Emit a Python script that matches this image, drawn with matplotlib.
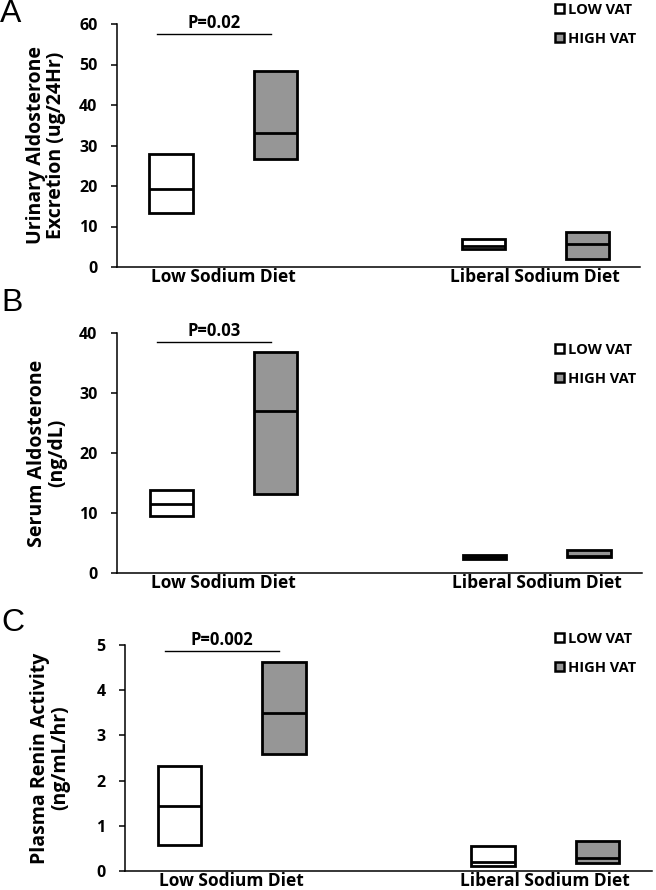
import matplotlib
matplotlib.use("Agg")
import matplotlib.pyplot as plt
from matplotlib.patches import Patch

plt.rcParams['font.family'] = ['Open Sans', 'DejaVu Sans']

categories = ["Low Sodium Diet", "Liberal Sodium Diet"]
groups = ["LOW VAT", "HIGH VAT"]

# Panel A: Urinary aldosterone (q1, median, q3)
A_low_q1 = [13.4, 4.5]
A_low_med = [19.3, 5.2]
A_low_q3 = [27.8, 6.8]
A_high_q1 = [26.7, 2.0]
A_high_med = [33.0, 5.6]
A_high_q3 = [48.5, 8.6]

# Panel B: Serum aldosterone
B_low_q1 = [9.5, 2.4]
B_low_med = [11.5, 2.7]
B_low_q3 = [13.8, 3.0]
B_high_q1 = [13.2, 2.6]
B_high_med = [27.0, 2.9]
B_high_q3 = [36.8, 3.9]

# Panel C: Plasma renin activity
C_low_q1 = [0.57, 0.11]
C_low_med = [1.44, 0.20]
C_low_q3 = [2.32, 0.55]
C_high_q1 = [2.59, 0.18]
C_high_med = [3.50, 0.28]
C_high_q3 = [4.62, 0.67]

A_ticks = [0, 10, 20, 30, 40, 50, 60]
B_ticks = [0, 10, 20, 30, 40]
C_ticks = [0, 1, 2, 3, 4, 5]

p_texts = ["P=0.02", "P=0.03", "P=0.002"]
p_levels = [57.5, 38.5, 4.87]
ylabels = ["Urinary Aldosterone\nExcretion (ug/24Hr)", "Serum Aldosterone\n(ng/dL)",
           "Plasma Renin Activity\n(ng/mL/hr)"]
letters = ["A", "B", "C"]

GRAY = "#969696"
W, H = 656, 890
fig = plt.figure(figsize=(W / 100, H / 100), dpi=100)

# axes rectangles in pixels: left, right, top, bottom
rects = [(117, 640, 24, 267), (117, 642, 333, 573), (125, 652, 645, 871)]
data = [
    (A_low_q1, A_low_med, A_low_q3, A_high_q1, A_high_med, A_high_q3, A_ticks),
    (B_low_q1, B_low_med, B_low_q3, B_high_q1, B_high_med, B_high_q3, B_ticks),
    (C_low_q1, C_low_med, C_low_q3, C_high_q1, C_high_med, C_high_q3, C_ticks),
]
letter_pos = [(0, -1), (1, 288), (1, 608)]
legend_y = [13, 353, 642]
ylabel_x = [46, 47, 50]

off = 0.167
bw = 0.138
xpos = list(range(len(categories)))

for i, (rect, d) in enumerate(zip(rects, data)):
    l, r, t, b = rect
    ax = fig.add_axes([l / W, 1 - b / H, (r - l) / W, (b - t) / H])
    lq1, lmed, lq3, hq1, hmed, hq3, ticks = d
    xl = [x - off for x in xpos]
    xh = [x + off for x in xpos]
    ax.bar(xl, [q3 - q1 for q1, q3 in zip(lq1, lq3)], bottom=lq1, width=bw,
           facecolor="white", edgecolor="black", linewidth=2.0, zorder=2)
    ax.bar(xh, [q3 - q1 for q1, q3 in zip(hq1, hq3)], bottom=hq1, width=bw,
           facecolor=GRAY, edgecolor="black", linewidth=2.0, zorder=2)
    ax.hlines(lmed, [x - bw / 2 for x in xl], [x + bw / 2 for x in xl],
              color="black", linewidth=2.0, zorder=3)
    ax.hlines(hmed, [x - bw / 2 for x in xh], [x + bw / 2 for x in xh],
              color="black", linewidth=2.0, zorder=3)

    ax.set_xlim(-0.34, 1.336 if i < 2 else 1.34)
    ax.set_ylim(ticks[0], ticks[-1])
    ax.set_yticks(ticks)
    ax.set_yticklabels([str(v) for v in ticks], fontsize=11.5, fontweight="bold")
    ax.tick_params(axis="y", direction="out", length=4, width=1.1, pad=10)
    ax.set_xticks(xpos)
    ax.set_xticklabels(categories, fontsize=12.5, fontweight="bold")
    ax.tick_params(axis="x", length=0, pad=1)
    for s in ["top", "right"]:
        ax.spines[s].set_visible(False)
    for s in ["left", "bottom"]:
        ax.spines[s].set_linewidth(1.1)
    ax.set_ylabel(ylabels[i], fontsize=14, fontweight="bold", linespacing=1.05,
                  ha="center", va="center")
    ax.yaxis.set_label_coords((ylabel_x[i] - l) / (r - l), 0.5)

    # significance bar
    x0, x1 = xl[0] - 0.045, xh[0] - 0.015
    ax.plot([x0, x1], [p_levels[i], p_levels[i]],
            color="black", linewidth=1.0, clip_on=False)
    ax.text((x0 + x1) / 2, p_levels[i] + (ticks[-1] * 0.008), p_texts[i], ha="center",
            va="bottom", fontsize=12, fontweight="bold", clip_on=False)

    handles = [Patch(facecolor="white", edgecolor="black", linewidth=1.8, label=groups[0]),
               Patch(facecolor=GRAY, edgecolor="black", linewidth=1.8, label=groups[1])]
    ax.legend(handles=handles, loc="upper left",
              bbox_to_anchor=((555 - l) / (r - l), 1 - (legend_y[i] - 10 - t) / (b - t)),
              frameon=False, handlelength=0.6, handleheight=0.6, handletextpad=0.3,
              labelspacing=1.0, borderpad=0, borderaxespad=0,
              prop={"size": 10.5, "weight": "bold"})

    fig.text(letter_pos[i][0] / W, 1 - letter_pos[i][1] / H, letters[i], fontsize=23,
             ha="left", va="top", family="Liberation Sans")

fig.savefig("out.png", dpi=100)
